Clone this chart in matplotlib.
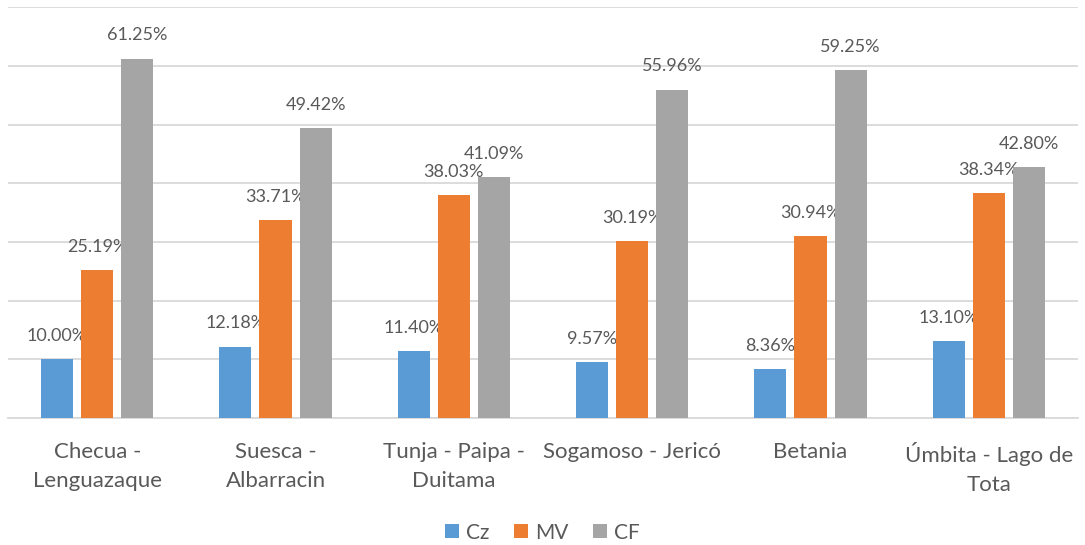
import numpy as np
import matplotlib.pyplot as plt
from matplotlib.ticker import MultipleLocator

# data
categories = ['Checua -\nLenguazaque', 'Suesca -\nAlbarracin', 'Tunja - Paipa -\nDuitama',
              'Sogamoso - Jericó', 'Betania', 'Úmbita - Lago de\nTota']
series_names = ['Cz', 'MV', 'CF']
cz = [10.00, 12.18, 11.40, 9.57, 8.36, 13.10]
mv = [25.19, 33.71, 38.03, 30.19, 30.94, 38.34]
cf = [61.25, 49.42, 41.09, 55.96, 59.25, 42.80]

colors = ['#5B9BD5', '#ED7D31', '#A5A5A5']
text_col = '#595959'

plt.rcParams['font.family'] = ['Lato', 'DejaVu Sans']

fig = plt.figure(figsize=(10.85, 5.45), dpi=100)
ax = fig.add_axes([0.0074, 0.233, 0.9861, 0.7536])

x = np.arange(len(categories))
width = 0.18
step = 0.225

for k, (name, vals) in enumerate(zip(series_names, [cz, mv, cf])):
    pos = x + (k - 1) * step
    ax.bar(pos, vals, width, color=colors[k], label=name, zorder=3)
    for p, v in zip(pos, vals):
        ax.annotate('%.2f%%' % v, (p, v), xytext=(0, 11), textcoords='offset points',
                    ha='center', va='bottom', fontsize=13, color=text_col)

ax.set_xlim(-0.5, len(categories) - 0.5)
ax.set_ylim(0, 70)
ax.yaxis.set_major_locator(MultipleLocator(10))
ax.grid(axis='y', color='#D9D9D9', linewidth=1.3, zorder=0)
ax.set_yticklabels([])
ax.tick_params(axis='y', length=0)
ax.tick_params(axis='x', length=0, pad=17)
ax.set_xticks(x)
ax.set_xticklabels(categories, fontsize=16, color=text_col, linespacing=1.6)
for s in ['top', 'right', 'left']:
    ax.spines[s].set_visible(False)
ax.spines['bottom'].set_color('#D9D9D9')
ax.spines['bottom'].set_linewidth(1.3)

fig.legend(loc='lower center', bbox_to_anchor=(0.5, -0.03), ncol=3, frameon=False,
           fontsize=15, handlelength=0.65, handleheight=0.65, handletextpad=0.35,
           columnspacing=1.2, labelcolor=text_col)

fig.savefig('out.png', dpi=100)
